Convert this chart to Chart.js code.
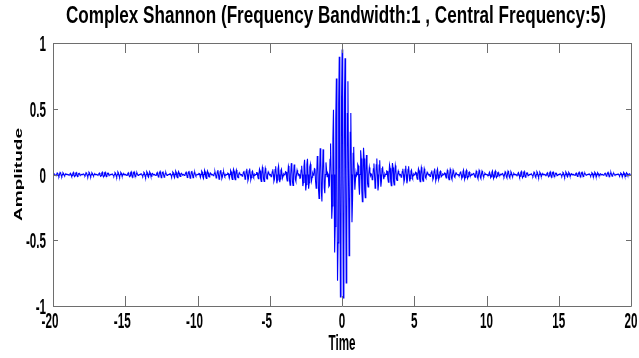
<!DOCTYPE html>
<html>
<head>
<meta charset="utf-8">
<script src="https://cdn.jsdelivr.net/npm/chart.js@4.4.1/dist/chart.umd.min.js"></script>
<style>
  html, body { margin: 0; padding: 0; background: #fff; }
  #c { display: block; }
</style>
</head>
<body>
<canvas id="c" width="639" height="358"></canvas>
<script>
// Sampling grid of the time axis (uniform, as in the original wavelet plot)
const timeStart = -19.99;
const timeStep = 0.04;

// Amplitude samples for t < 0 (from t = -19.99 up to t = -0.03), one row per unit of time
const ampNeg = [
0,0,.004,.004,-.005,-.009,0,.012,.008,-.009,-.015,0,.016,.010,-.009,-.015,0,.013,.007,-.006,-.009,0,.005,.002,-.001,
.001,0,-.004,-.004,.005,.010,0,-.013,-.009,.009,.016,0,-.016,-.010,.010,.015,0,-.014,-.008,.007,.009,0,-.006,-.002,.001,
-.001,0,.005,.004,-.005,-.010,0,.014,.009,-.010,-.017,0,.017,.011,-.010,-.016,0,.014,.008,-.007,-.010,0,.006,.002,-.001,
.001,0,-.005,-.004,.006,.011,0,-.014,-.010,.010,.018,0,-.018,-.011,.011,.017,0,-.015,-.009,.008,.011,0,-.006,-.003,.001,
-.001,0,.005,.005,-.006,-.012,0,.015,.010,-.011,-.019,0,.020,.012,-.012,-.019,0,.016,.009,-.008,-.011,0,.007,.003,-.001,
.001,0,-.006,-.005,.006,.013,0,-.016,-.011,.012,.020,0,-.021,-.013,.013,.020,0,-.017,-.010,.009,.012,0,-.007,-.003,.001,
-.001,0,.006,.005,-.007,-.013,0,.017,.012,-.013,-.021,0,.022,.014,-.014,-.021,0,.019,.011,-.009,-.013,0,.008,.003,-.001,
.001,0,-.007,-.006,.007,.015,0,-.019,-.013,.014,.023,0,-.024,-.015,.015,.023,0,-.020,-.011,.010,.014,0,-.008,-.003,.001,
-.001,0,.007,.006,-.008,-.016,0,.020,.014,-.015,-.025,0,.026,.016,-.016,-.025,0,.022,.012,-.011,-.015,0,.009,.004,-.002,
.001,0,-.008,-.007,.009,.017,0,-.022,-.015,.016,.027,0,-.029,-.018,.018,.027,0,-.024,-.014,.012,.017,0,-.010,-.004,.002,
-.001,0,.009,.008,-.010,-.019,0,.025,.017,-.018,-.030,0,.032,.020,-.019,-.030,0,.027,.015,-.013,-.019,0,.011,.004,-.002,
.001,0,-.009,-.008,.011,.021,0,-.027,-.019,.020,.034,0,-.036,-.022,.022,.034,0,-.030,-.017,.015,.021,0,-.013,-.005,.002,
-.001,0,.011,.009,-.012,-.024,0,.031,.021,-.023,-.038,0,.040,.025,-.025,-.039,0,.034,.019,-.017,-.024,0,.014,.006,-.003,
.001,0,-.012,-.011,.014,.027,0,-.036,-.024,.026,.044,0,-.046,-.029,.028,.045,0,-.040,-.022,.020,.027,0,-.017,-.007,.003,
-.002,0,.014,.013,-.016,-.032,0,.042,.028,-.031,-.052,0,.055,.034,-.034,-.053,0,.047,.027,-.024,-.033,0,.020,.008,-.003,
.002,0,-.017,-.015,.020,.039,0,-.051,-.035,.037,.063,0,-.067,-.042,.041,.065,0,-.058,-.033,.029,.041,0,-.025,-.010,.004,
-.002,0,.022,.019,-.025,-.049,0,.064,.044,-.047,-.081,0,.086,.054,-.053,-.084,0,.076,.043,-.038,-.053,0,.033,.013,-.006,
.003,0,-.029,-.026,.034,.067,0,-.088,-.060,.065,.112,0,-.121,-.075,.075,.119,0,-.108,-.062,.056,.078,0,-.049,-.020,.009,
-.005,0,.044,.040,-.052,-.104,0,.140,.096,-.105,-.183,0,.200,.127,-.128,-.205,0,.191,.111,-.101,-.143,0,.092,.038,-.017,
.010,0,-.093,-.085,.115,.235,0,-.337,-.240,.273,.493,0,-.593,-.396,.425,.730,0,-.808,-.520,.538,.896,0,-.932,-.583,.587
];

// Amplitude samples for t > 0 (from t = 0.01 up to t = 19.97), one row per unit of time
const ampPos = [
.951,0,-.938,-.572,.560,.884,0,-.825,-.488,.464,.709,0,-.617,-.352,.320,.467,0,-.363,-.192,.161,.210,0,-.115,-.044,.018,
-.009,0,.077,.066,-.081,-.153,0,.185,.121,-.125,-.206,0,.203,.122,-.116,-.177,0,.148,.081,-.070,-.094,0,.054,.021,-.009,
.005,0,-.040,-.035,.044,.084,0,-.104,-.069,.073,.121,0,-.122,-.074,.071,.109,0,-.093,-.051,.045,.061,0,-.036,-.014,.006,
-.003,0,.027,.024,-.030,-.058,0,.073,.048,-.051,-.085,0,.087,.053,-.051,-.079,0,.068,.038,-.033,-.045,0,.026,.010,-.004,
.002,0,-.021,-.018,.023,.044,0,-.056,-.037,.039,.066,0,-.067,-.041,.040,.062,0,-.053,-.030,.026,.035,0,-.021,-.008,.004,
-.002,0,.017,.014,-.018,-.036,0,.045,.030,-.032,-.054,0,.055,.034,-.033,-.051,0,.044,.025,-.021,-.029,0,.017,.007,-.003,
.002,0,-.014,-.012,.015,.030,0,-.038,-.025,.027,.045,0,-.047,-.029,.028,.043,0,-.037,-.021,.018,.025,0,-.015,-.006,.003,
-.001,0,.012,.010,-.013,-.026,0,.033,.022,-.023,-.039,0,.040,.025,-.024,-.037,0,.033,.018,-.016,-.022,0,.013,.005,-.002,
.001,0,-.010,-.009,.012,.023,0,-.029,-.019,.021,.035,0,-.036,-.022,.021,.033,0,-.029,-.016,.014,.019,0,-.012,-.005,.002,
-.001,0,.009,.008,-.010,-.020,0,.026,.017,-.018,-.031,0,.032,.020,-.019,-.030,0,.026,.014,-.013,-.017,0,.010,.004,-.002,
.001,0,-.008,-.007,.009,.018,0,-.023,-.016,.017,.028,0,-.029,-.018,.017,.027,0,-.023,-.013,.011,.016,0,-.009,-.004,.002,
-.001,0,.008,.007,-.009,-.017,0,.021,.014,-.015,-.025,0,.026,.016,-.016,-.025,0,.021,.012,-.011,-.014,0,.009,.003,-.001,
.001,0,-.007,-.006,.008,.015,0,-.019,-.013,.014,.023,0,-.024,-.015,.015,.023,0,-.020,-.011,.010,.013,0,-.008,-.003,.001,
-.001,0,.006,.006,-.007,-.014,0,.018,.012,-.013,-.022,0,.022,.014,-.013,-.021,0,.018,.010,-.009,-.012,0,.007,.003,-.001,
.001,0,-.006,-.005,.007,.013,0,-.017,-.011,.012,.020,0,-.021,-.013,.013,.019,0,-.017,-.010,.008,.011,0,-.007,-.003,.001,
-.001,0,.006,.005,-.006,-.012,0,.016,.011,-.011,-.019,0,.020,.012,-.012,-.018,0,.016,.009,-.008,-.011,0,.006,.003,-.001,
.001,0,-.005,-.005,.006,.011,0,-.015,-.010,.010,.018,0,-.018,-.011,.011,.017,0,-.015,-.008,.007,.010,0,-.006,-.002,.001,
-.001,0,.005,.004,-.006,-.011,0,.014,.009,-.010,-.017,0,.017,.011,-.010,-.016,0,.014,.008,-.007,-.010,0,.006,.002,-.001,
.001,0,-.005,-.004,.005,.010,0,-.013,-.009,.009,.016,0,-.016,-.010,.010,.015,0,-.013,-.007,.007,.009,0,-.005,-.002,.001,
0,0,.004,.004,-.005,-.010,0,.012,.008,-.009,-.015,0,.016,.010,-.009,-.015,0,.013,.007,-.006,-.009,0,.005,.002,-.001
];

const xTickValues = [-20, -15, -10, -5, 0, 5, 10, 15, 20];
const yTickValues = [-1, -0.5, 0, 0.5, 1];
const xTickLabels = ['-20', '-15', '-10', '-5', '0', '5', '10', '15', '20'];
const yTickLabels = ['-1', '-0.5', '0', '0.5', '1'];

const titleText = 'Complex Shannon (Frequency Bandwidth:1 , Central Frequency:5)';
const xTitle = 'Time';
const yTitle = 'Amplitude';

const amplitude = ampNeg.concat(ampPos);
const points = amplitude.map((v, i) => ({ x: +(timeStart + i * timeStep).toFixed(2), y: v }));

const FONT = "'Liberation Sans', Arial, sans-serif";
const SQUEEZE = 0.53; // horizontally condensed lettering, as in the reference

function drawText(ctx, text, x, y, size, align, baseline, sx) {
  ctx.save();
  ctx.font = 'bold ' + size + 'px ' + FONT;
  ctx.fillStyle = '#000';
  ctx.textAlign = align;
  ctx.textBaseline = baseline;
  ctx.translate(x, y);
  ctx.scale(sx, 1);
  ctx.fillText(text, 0, 0);
  ctx.restore();
}

const decorPlugin = {
  id: 'matlabDecor',
  afterDatasetsDraw(chart) {
    const { ctx, chartArea: a, scales } = chart;
    ctx.save();
    ctx.strokeStyle = '#6e6e6e';
    ctx.lineWidth = 1;
    ctx.beginPath();
    ctx.rect(Math.round(a.left) + 0.5, Math.round(a.top) + 0.5,
             Math.round(a.right - a.left), Math.round(a.bottom - a.top));
    ctx.stroke();
    ctx.beginPath();
    xTickValues.forEach(v => {
      const px = Math.round(scales.x.getPixelForValue(v)) + 0.5;
      ctx.moveTo(px, a.bottom); ctx.lineTo(px, a.bottom - 10);
      ctx.moveTo(px, a.top); ctx.lineTo(px, a.top + 10);
    });
    yTickValues.forEach(v => {
      const py = Math.round(scales.y.getPixelForValue(v)) + 0.5;
      ctx.moveTo(a.left, py); ctx.lineTo(a.left + 5, py);
      ctx.moveTo(a.right, py); ctx.lineTo(a.right - 5, py);
    });
    ctx.stroke();
    ctx.restore();

    // tick labels
    xTickValues.forEach((v, i) => {
      const px = scales.x.getPixelForValue(v);
      drawText(ctx, xTickLabels[i], px - (xTickLabels[i][0] === '-' ? 3 : 0), a.bottom + 22, 22, 'center', 'alphabetic', SQUEEZE);
    });
    yTickValues.forEach((v, i) => {
      const py = scales.y.getPixelForValue(v);
      drawText(ctx, yTickLabels[i], a.left - 7, py + 8, 22, 'right', 'alphabetic', SQUEEZE);
    });

    // axis titles
    drawText(ctx, xTitle, (a.left + a.right) / 2, 350, 22, 'center', 'alphabetic', SQUEEZE);
    ctx.save();
    ctx.font = 'bold 19px ' + FONT;
    ctx.fillStyle = '#000';
    ctx.textAlign = 'center';
    ctx.textBaseline = 'middle';
    ctx.translate(19, (a.top + a.bottom) / 2);
    ctx.rotate(-Math.PI / 2);
    ctx.scale(1, 0.6);
    ctx.fillText(yTitle, 0, 0);
    ctx.restore();

    // chart title
    ctx.save();
    ctx.font = 'bold 24px ' + FONT;
    const w = ctx.measureText(titleText).width;
    ctx.restore();
    drawText(ctx, titleText, 336, 23, 24, 'center', 'alphabetic', 540 / w);
  }
};

new Chart(document.getElementById('c'), {
  type: 'line',
  data: {
    datasets: [{
      data: points,
      borderColor: '#0000ff',
      borderWidth: 1.1,
      pointRadius: 0,
      tension: 0,
      fill: false
    }]
  },
  options: {
    responsive: false,
    devicePixelRatio: 1,
    animation: false,
    events: [],
    layout: { padding: { left: 0, right: 8, top: 43, bottom: 0 } },
    plugins: {
      legend: { display: false },
      tooltip: { enabled: false },
      title: { display: false }
    },
    scales: {
      x: {
        type: 'linear',
        min: -20, max: 20,
        afterBuildTicks: s => { s.ticks = xTickValues.map(v => ({ value: v })); },
        afterFit: s => { s.height = 52; },
        grid: { display: false },
        border: { display: false },
        ticks: { display: false }
      },
      y: {
        type: 'linear',
        min: -1, max: 1,
        afterBuildTicks: s => { s.ticks = yTickValues.map(v => ({ value: v })); },
        afterFit: s => { s.width = 53; },
        grid: { display: false },
        border: { display: false },
        ticks: { display: false }
      }
    }
  },
  plugins: [decorPlugin]
});
</script>
</body>
</html>
